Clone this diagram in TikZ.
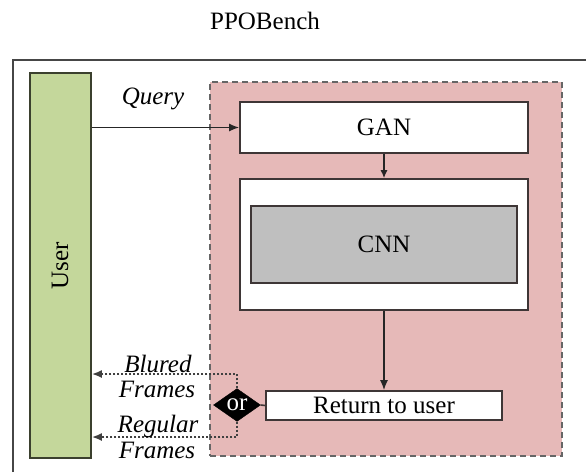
\documentclass[tikz,border=0pt]{standalone}
\usepackage{fontspec}
\setmainfont{LiberationSerif}[Extension=.ttf, UprightFont=*-Regular, ItalicFont=*-Italic,
  BoldFont=*-Bold, BoldItalicFont=*-BoldItalic]
\usetikzlibrary{arrows.meta,shapes.geometric}
\definecolor{usergreen}{RGB}{196,215,155}
\definecolor{zonepink}{RGB}{230,185,184}
\definecolor{cnngray}{RGB}{191,191,191}
\definecolor{edgecol}{RGB}{62,54,54}
\definecolor{framecol}{RGB}{70,70,70}

\begin{document}
\begin{tikzpicture}[x=1pt,y=-1pt,
  every node/.style={font=\rmfamily\fontsize{25}{30}\selectfont},
  box/.style={draw=edgecol, line width=1.8pt, inner sep=0pt, rectangle},
  lbl/.style={font=\rmfamily\fontsize{25}{30}\selectfont\itshape, inner sep=0pt, anchor=base},
  flow/.style={draw=black!85, line width=1.4pt, -{Latex[length=10pt,width=8pt]}},
  alt/.style={draw=black!75, line width=1.6pt, dash pattern=on 2pt off 2pt,
              -{Latex[length=10pt,width=8pt]}}
]
\useasboundingbox (0,0) rectangle (586,472);

% outer frame (only its top and left sides fall inside the page)
\draw[framecol, line width=1.8pt] (13,472) -- (13,60) -- (586,60);

% title
\node[anchor=base, inner sep=0pt] (title) at (265,29) {PPOBench};

% user column
\node[box, fill=usergreen, draw=black!70!usergreen, minimum width=61pt, minimum height=385pt]
  (user) at (60.5,265.5) {};
\node[rotate=90, inner sep=0pt] (userlbl) at (60,266) {User};

% processing zone
\node[box, fill=zonepink, draw=black!60, line width=1.4pt, dash pattern=on 6pt off 4pt,
  minimum width=352pt, minimum height=374pt] (zone) at (386,269) {};

\node[box, fill=white, minimum width=288pt, minimum height=51pt] (gan) at (384,127.5) {GAN};
\node[box, fill=white, minimum width=288pt, minimum height=131pt] (cnnbox) at (384,244.5) {};
\node[box, fill=cnngray, minimum width=266pt, minimum height=77pt] (cnn) at (384,244.5) {CNN};
\node[box, fill=white, minimum width=236pt, minimum height=29pt] (ret) at (384,405.5) {Return to user};
\node[diamond, fill=black, draw=black, inner sep=0pt, minimum width=47pt, minimum height=30pt,
  text=white] (orgate) at (237,405) {or};

% connectors
\draw[flow] (user.east |- gan.west) -- (gan.west);
\draw[flow, line width=1.2pt, -{Latex[length=8pt,width=7pt]}] (gan.south) -- (cnnbox.north);
\draw[flow] (cnnbox.south) -- (ret.north);
\draw[edgecol, line width=1.6pt] (orgate.east) -- (ret.west);

\coordinate (blurlevel) at (0,374);
\coordinate (reglevel) at (0,437);
\draw[alt] (orgate.north) |- (user.east |- blurlevel);
\draw[alt] (orgate.south) |- (user.east |- reglevel);

% labels
\node[lbl] (query) at (153,104) {Query};
\node[lbl] (blur1) at (158,372) {Blured};
\node[lbl] (blur2) at (157,397) {Frames};
\node[lbl] (reg1) at (158,432) {Regular};
\node[lbl] (reg2) at (157,458) {Frames};
\end{tikzpicture}
\end{document}
